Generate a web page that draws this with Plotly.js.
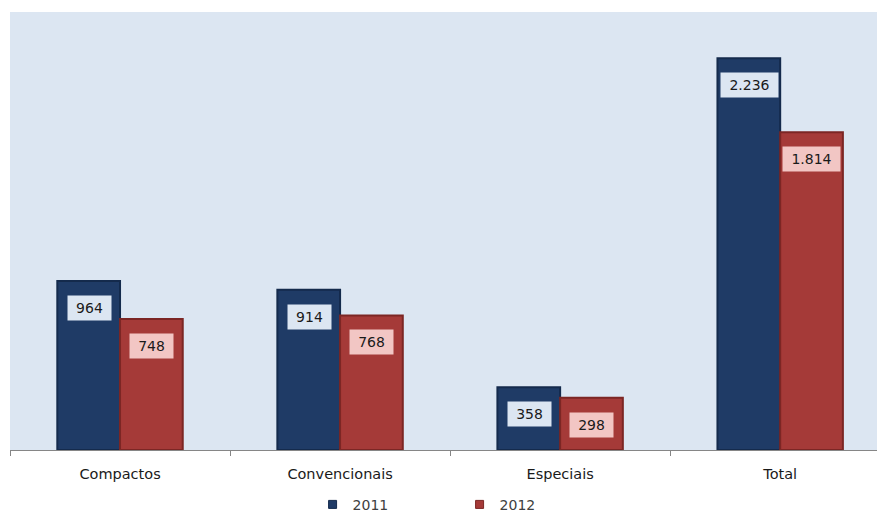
<!DOCTYPE html>
<html>
<head>
<meta charset="utf-8">
<script src="https://cdn.plot.ly/plotly-3.0.1.min.js"></script>
<style>html,body{margin:0;padding:0;background:#fff;overflow:hidden;}</style>
</head>
<body>
<div id="chart" style="width:877px;height:513px;"></div>
<script>
const categories = ["Compactos", "Convencionais", "Especiais", "Total"];
const seriesNames = ["2011", "2012"];
const values2011 = [964, 914, 358, 2236];
const values2012 = [748, 768, 298, 1814];
const colors = ["#1F3B66", "#A53A38"];
const lineColors = ["#142A4C", "#7C2624"];
const labelBg = ["#DCE6F2", "#F2C6C4"];

function fmt(v) {
  return String(v).replace(/\B(?=(\d{3})+(?!\d))/g, ".");
}

const traces = [values2011, values2012].map((vals, i) => ({
  type: "bar", name: seriesNames[i], x: categories, y: vals,
  marker: {color: colors[i], line: {color: lineColors[i], width: 2}},
  showlegend: false, hoverinfo: "skip"
}));

// legend-only entries with small square symbols
seriesNames.forEach((n, i) => {
  traces.push({
    type: "scatter", mode: "markers", name: n, x: [null], y: [null],
    marker: {symbol: "square", size: 8, color: colors[i], line: {color: lineColors[i], width: 1}},
    showlegend: true, hoverinfo: "skip"
  });
});

const annotations = [];
const offsets = [-31, 31];
[values2011, values2012].forEach((vals, i) => {
  vals.forEach((v, j) => {
    const t = fmt(v);
    const digits = t.replace(/\./g, "").length;
    const dots = t.length - digits;
    annotations.push({
      x: categories[j], y: v, xref: "x", yref: "y",
      xshift: offsets[i], yshift: -14,
      yanchor: "top", xanchor: "center",
      text: t, showarrow: false,
      bgcolor: labelBg[i],
      width: digits * 9 + dots * 5 + 14, height: 22,
      borderpad: 1,
      font: {family: "DejaVu Sans, Verdana, sans-serif", size: 14, color: "#1A1A1A"}
    });
  });
});

const layout = {
  width: 877, height: 513,
  margin: {l: 10, r: 0, t: 12, b: 63, autoexpand: false},
  paper_bgcolor: "#FFFFFF",
  plot_bgcolor: "#DCE6F2",
  barmode: "group",
  bargap: 0.43,
  bargroupgap: 0,
  showlegend: true,
  legend: {
    orientation: "h", xref: "paper", x: 0.349, xanchor: "left",
    yref: "container", y: 0.016, yanchor: "middle",
    font: {family: "DejaVu Sans, Verdana, sans-serif", size: 14, color: "#404040"},
    entrywidth: 102, itemwidth: 30, bgcolor: "rgba(0,0,0,0)"
  },
  xaxis: {
    type: "category",
    range: [-0.5, 3.44],
    showline: true, linecolor: "#868686", linewidth: 1,
    ticks: "outside", tickson: "boundaries", ticklen: 5, tickcolor: "#868686",
    ticklabelstandoff: 11,
    showgrid: false, zeroline: false,
    tickfont: {family: "DejaVu Sans, Verdana, sans-serif", size: 14.5, color: "#1A1A1A"}
  },
  yaxis: {
    range: [0, 2500], visible: false, showgrid: false, zeroline: false
  },
  annotations: annotations
};

Plotly.newPlot("chart", traces, layout, {displayModeBar: false, staticPlot: true});
</script>
</body>
</html>
